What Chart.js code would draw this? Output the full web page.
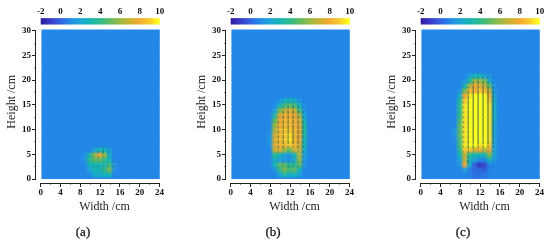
<!DOCTYPE html>
<html>
<head>
<meta charset="utf-8">
<script src="https://cdn.jsdelivr.net/npm/chart.js@4"></script>
<style>
    html, body { margin: 0; padding: 0; background: #fff; width: 550px; height: 246px; overflow: hidden; }
    canvas { position: absolute; }
    .tag { position: absolute; top: 224px; width: 40px; text-align: center; font: 13px 'Liberation Serif'; color: #111; -webkit-text-stroke: 0.25px #111; }
</style>
</head>
<body>
<script>
const xTicks = [0, 4, 8, 12, 16, 20, 24];
const yTicks = [0, 5, 10, 15, 20, 25, 30];
const scaleTicks = [-2, 0, 2, 4, 6, 8, 10];

const colorValues = [-2, -1, 0, 1, 2, 3, 4, 5, 6, 7, 8, 9, 10];
const colorStops = ['#2d1a96', '#3a3ac8', '#3560e0', '#2488e8', '#1fa5d8', '#17b5b5', '#2cba8f', '#5fbb63', '#96ba45', '#c9b334', '#f2a832', '#f8c92c', '#ffff1e'];

const background = 1;
const hotColumns = [7, 8, 9, 10, 11, 12, 13, 14, 15, 16];
const hotRows = [21, 20, 19, 18, 17, 16, 15, 14, 13, 12, 11, 10, 9, 8, 7, 6, 5, 4, 3, 2, 1, 0];

const panelA = [
    [1, 1, 1, 1, 1, 1, 1, 1, 1, 1],
    [1, 1, 1, 1, 1, 1, 1, 1, 1, 1],
    [1, 1, 1, 1, 1, 1, 1, 1, 1, 1],
    [1, 1, 1, 1, 1, 1, 1, 1, 1, 1],
    [1, 1, 1, 1, 1, 1, 1, 1, 1, 1],
    [1, 1, 1, 1, 1, 1, 1, 1, 1, 1],
    [1, 1, 1, 1, 1, 1, 1, 1, 1, 1],
    [1, 1, 1, 1, 1, 1, 1, 1, 1, 1],
    [1, 1, 1, 1, 1, 1, 1, 1, 1, 1],
    [1, 1, 1, 1, 1, 1, 1, 1, 1, 1],
    [1, 1, 1, 1, 1, 1, 1, 1, 1, 1],
    [1, 1, 1, 1, 1, 1, 1, 1, 1, 1],
    [1, 1, 1, 1, 1, 1, 1, 1, 1, 1],
    [1, 1, 1, 1, 1, 1, 1, 1, 1, 1],
    [1, 1, 1, 1, 1, 1, 1, 1, 1, 1],
    [1, 1, 1, 1, 2, 3, 3, 2, 1, 1],
    [1, 1, 1.5, 3.5, 6, 8, 6, 2.5, 1, 1],
    [1, 1, 1.5, 4, 5, 5, 4, 3, 1, 1],
    [1, 1, 1, 3, 3, 3, 3.5, 4.5, 1.5, 1],
    [1, 1, 1, 2, 3, 3, 4, 5.5, 1.5, 1],
    [1, 1, 1, 1, 2.5, 2.5, 3, 3, 1, 1],
    [1, 1, 1, 1, 1, 1, 1, 1, 1, 1]
];

const panelB = [
    [1, 1, 1, 1, 1, 1, 1, 1, 1, 1],
    [1, 1, 1, 1, 1, 1, 1, 1, 1, 1],
    [1, 1, 1, 1, 1, 1, 1, 1, 1, 1],
    [1, 1, 1, 1, 1, 1, 1, 1, 1, 1],
    [1, 1, 1, 1, 1, 1, 1, 1, 1, 1],
    [1, 1, 1, 1.5, 2.5, 3, 2.5, 1.5, 1, 1],
    [1, 1, 1.2, 3, 4.5, 5, 4.5, 3, 1.2, 1],
    [1, 1, 2, 5.5, 7, 7.5, 7, 4.5, 1.5, 1],
    [1, 1, 3.5, 7.5, 8, 8.2, 8, 6.5, 2, 1],
    [1, 1, 5, 8, 8.5, 8.5, 8.2, 7.5, 3, 1],
    [1, 1.2, 6, 8.2, 8.5, 8.7, 8.2, 7.8, 3.5, 1],
    [1, 1.2, 6.5, 8.5, 9, 9, 8.5, 7.8, 3.5, 1],
    [1, 1.5, 7.2, 8.5, 9, 9.5, 8.5, 7.8, 3.5, 1],
    [1, 1.5, 7.5, 8.5, 9, 9.5, 8.5, 7.8, 3, 1],
    [1, 1.5, 7.5, 8.5, 8.5, 9, 8.5, 7.2, 3, 1],
    [1, 1, 7, 7.5, 6, 5, 7, 7, 2.5, 1],
    [1, 1, 4, 3, 2, 1.5, 3, 6.5, 2, 1],
    [1, 1, 2.5, 2, 1.5, 1.5, 2.5, 6, 1.5, 1],
    [1, 1, 3, 5, 5, 4, 4, 5, 1.5, 1],
    [1, 1, 1.5, 4, 5.5, 4.5, 5, 3, 1, 1],
    [1, 1, 1, 2, 3.5, 2.5, 3, 2, 1, 1],
    [1, 1, 1, 1, 1, 1, 1, 1, 1, 1]
];

const panelC = [
    [1, 1, 1, 2, 3, 3, 2, 1.5, 1, 1],
    [1, 1, 1.5, 3.5, 6, 6, 5.5, 2.5, 1, 1],
    [1, 1, 3, 6.5, 8, 7.5, 7, 5, 1.5, 1],
    [1, 1.5, 5.5, 8.5, 8, 9, 8.5, 7, 1.5, 1],
    [1, 2.5, 8, 9.5, 10, 10, 10, 8.5, 2, 1],
    [1, 3.5, 9, 10, 10, 10, 10, 9, 2.5, 1],
    [1, 4, 9.5, 10, 10, 10, 10, 9.5, 2.5, 1],
    [1, 4, 9.5, 10, 10, 10, 10, 9.5, 2.5, 1],
    [1, 4, 9.5, 10, 10, 10, 10, 9.5, 2.5, 1],
    [1, 4.5, 9.5, 10, 10, 10, 10, 9.5, 2.5, 1],
    [1, 5, 9.5, 10, 10, 10, 10, 9.5, 2, 1],
    [1.5, 5, 9.5, 10, 10, 10, 10, 9.5, 2, 1],
    [1.5, 5, 9.5, 10, 10, 10, 10, 9.5, 2, 1],
    [1, 4.5, 9.5, 10, 10, 10, 10, 9.5, 2, 1],
    [1, 4.5, 9.5, 10, 10, 9.5, 10, 9, 2, 1],
    [1, 4, 9, 9, 7, 8, 6.5, 8, 2, 1],
    [1, 3, 7, 4, 3, 3, 3, 5.5, 2, 1],
    [1, 2, 7, 3, 2, 1, 1, 3, 1.5, 1],
    [1, 1.5, 8, 2.5, 0, -1.2, -0.7, 1, 1, 1],
    [1, 1, 2, 0.8, 0.3, 0.3, 0, 0.8, 1, 1],
    [1, 1, 1, 0.8, 0.4, 0.4, 0.6, 1, 1, 1],
    [1, 1, 1, 1, 0.8, 0.5, 0.8, 1, 1, 1]
];

const panels = [
    { id: 'a', left: 0, values: panelA },
    { id: 'b', left: 190, values: panelB },
    { id: 'c', left: 380, values: panelC }
];

// blurs the heat cells so they read like the interpolated image
const smoothCells = {
    id: 'smoothCells',
    beforeDatasetDraw(chart, args) {
        if (args.index != 1) return;
        // backing colour, otherwise the blurred cell corners let white through
        const area = chart.chartArea;
        chart.ctx.fillStyle = colorOf(background);
        chart.ctx.fillRect(area.left + 1, area.top - 1, area.width - 1, area.height + 1);
        chart.ctx.filter = 'blur(1.3px)';
    },
    afterDatasetDraw(chart, args) {
        if (args.index == 1) chart.ctx.filter = 'none';
    }
};

panels.forEach(drawPanel);

function hexToRgb(hex) {
    return [1, 3, 5].map(i => parseInt(hex.slice(i, i + 2), 16));
}

function colorOf(value) {
    const v = Math.max(colorValues[0], Math.min(colorValues[colorValues.length - 1], value));
    let i = 0;
    while (i < colorValues.length - 2 && v > colorValues[i + 1]) i++;
    const t = (v - colorValues[i]) / (colorValues[i + 1] - colorValues[i]);
    const a = hexToRgb(colorStops[i]);
    const b = hexToRgb(colorStops[i + 1]);
    return `rgb(${a.map((c, k) => Math.round(c + (b[k] - c) * t)).join(',')})`;
}

function addCanvas(left, top, width, height) {
    const canvas = document.createElement('canvas');
    canvas.width = width;
    canvas.height = height;
    canvas.style.left = left + 'px';
    canvas.style.top = top + 'px';
    canvas.style.width = width + 'px';
    canvas.style.height = height + 'px';
    document.body.appendChild(canvas);
    return canvas;
}

function buildCells(values) {
    const cells = [];
    for (let y = 0; y <= 30; y++) {
        for (let x = 0; x <= 24; x++) {
            const row = hotRows.indexOf(y);
            const col = hotColumns.indexOf(x);
            const v = row >= 0 && col >= 0 ? values[row][col] : background;
            cells.push({ x, y, v });
        }
    }
    return cells;
}

function markRadius(v) {
    const d = Math.abs(v - background) / 9;
    return 0.5 + d * d * 2.1;
}

function markColor(v) {
    if (v == background) return 'rgba(20,60,120,0.09)';
    return `rgba(25,60,45,${Math.min(0.7, 0.2 + Math.abs(v - background) * 0.06)})`;
}

function drawColorbar(panel) {
    const canvas = addCanvas(panel.left, 0, 170, 26);
    const steps = [];
    for (let v = -2; v <= 10; v += 0.25) steps.push({ x: v, y: [0, 1] });
    new Chart(canvas.getContext('2d'), {
        type: 'bar',
        data: {
            datasets: [{
                data: steps,
                barThickness: 3.4,
                backgroundColor: ctx => colorOf(ctx.raw.x)
            }]
        },
        options: {
            responsive: false,
            animation: false,
            layout: { padding: { left: 40.7, right: 10.3, top: 0, bottom: 1.6 } },
            plugins: { legend: { display: false }, tooltip: { enabled: false } },
            scales: {
                x: {
                    type: 'linear',
                    position: 'top',
                    offset: false,
                    min: -2,
                    max: 10,
                    afterFit: scale => { scale.height = 18.3; },
                    afterBuildTicks: scale => { scale.ticks = scaleTicks.map(value => ({ value })); },
                    border: { display: false },
                    grid: { display: false, drawTicks: false },
                    ticks: {
                        maxRotation: 0,
                        padding: 1.5,
                        color: '#111',
                        font: { family: 'Liberation Serif', size: 9, weight: 'bold' }
                    }
                },
                y: { display: false, min: 0, max: 1 }
            }
        }
    });
}

function drawPanel(panel) {
    drawColorbar(panel);

    const canvas = addCanvas(panel.left, 0, 170, 246);
    const cells = buildCells(panel.values);
    const tickFont = { family: 'Liberation Serif', size: 9, weight: 'bold' };
    const titleFont = { family: 'Liberation Serif', size: 12 };

    new Chart(canvas.getContext('2d'), {
        type: 'scatter',
        data: {
            datasets: [
                {
                    // velocity marks: short dark dashes, one per grid node
                    data: cells.map(c => ({ x: c.x + 0.6, y: c.y + 0.5, v: c.v })),
                    pointStyle: 'line',
                    rotation: 90,
                    pointRadius: ctx => markRadius(ctx.raw.v),
                    borderWidth: 1,
                    borderColor: ctx => markColor(ctx.raw.v),
                    clip: { left: -1, right: 0, top: 1, bottom: 0 }
                },
                {
                    data: cells,
                    pointStyle: 'rect',
                    pointRadius: 4.4,
                    borderWidth: 0,
                    backgroundColor: ctx => colorOf(ctx.raw.v),
                    clip: { left: -1, right: 0, top: 1, bottom: 0 }
                }
            ]
        },
        options: {
            responsive: false,
            animation: false,
            layout: { padding: { left: 0, right: 10.5, top: 30.7, bottom: 67 } },
            plugins: { legend: { display: false }, tooltip: { enabled: false } },
            scales: {
                x: {
                    type: 'linear',
                    position: { y: -0.9 },
                    min: 0,
                    max: 24,
                    afterBuildTicks: scale => { scale.ticks = xTicks.map(value => ({ value })); },
                    border: { color: '#222', width: 1 },
                    grid: { drawOnChartArea: false, tickLength: 3, tickColor: '#222' },
                    ticks: { maxRotation: 0, padding: 1, color: '#111', font: tickFont },
                    title: { display: true, text: '   Width /cm', color: '#222', font: titleFont, padding: 0 }
                },
                xMinor: {
                    type: 'linear',
                    axis: 'x',
                    position: { y: -0.9 },
                    min: 0,
                    max: 24,
                    border: { display: false },
                    grid: { drawOnChartArea: false, tickLength: 1.5, tickColor: '#222' },
                    ticks: { stepSize: 2, display: false }
                },
                y: {
                    type: 'linear',
                    position: 'left',
                    min: 0,
                    max: 30,
                    afterFit: scale => { scale.width = 40.7; },
                    afterBuildTicks: scale => { scale.ticks = yTicks.map(value => ({ value })); },
                    border: { display: false },
                    grid: { display: false, drawTicks: false },
                    ticks: { padding: 9.7, color: '#111', font: tickFont },
                    title: { display: true, text: '  Height /cm', color: '#222', font: titleFont, padding: { top: 5, bottom: 0 } }
                },
                yMajor: {
                    type: 'linear',
                    axis: 'y',
                    position: { x: -1.05 },
                    min: 0,
                    max: 30,
                    border: { color: '#222', width: 1 },
                    grid: { drawOnChartArea: false, tickLength: 3, tickColor: '#222' },
                    ticks: { stepSize: 5, display: false }
                },
                yMinor: {
                    type: 'linear',
                    axis: 'y',
                    position: { x: -1.05 },
                    min: 0,
                    max: 30,
                    border: { display: false },
                    grid: { drawOnChartArea: false, tickLength: 1.5, tickColor: '#222' },
                    ticks: { stepSize: 2.5, display: false }
                }
            }
        },
        plugins: [smoothCells]
    });

    const tag = document.createElement('div');
    tag.className = 'tag';
    tag.style.left = (panel.left + 63) + 'px';
    tag.textContent = '(' + panel.id + ')';
    document.body.appendChild(tag);
}
</script>
</body>
</html>
